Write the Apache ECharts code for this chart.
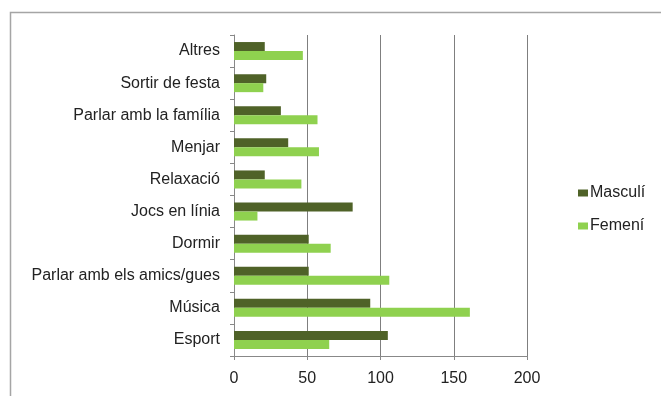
<!DOCTYPE html>
<html>
<head>
<meta charset="utf-8">
<script src="https://cdn.jsdelivr.net/npm/echarts@6/dist/echarts.min.js"></script>
<style>html,body{margin:0;padding:0;background:#fff;}#c{width:661px;height:396px;}</style>
</head>
<body>
<div id="c"></div>
<script>
var categories = ['Esport', 'Música', 'Parlar amb els amics/gues', 'Dormir', 'Jocs en línia', 'Relaxació', 'Menjar', 'Parlar amb la família', 'Sortir de festa', 'Altres'];
var masculi = [105, 93, 51, 51, 81, 21, 37, 32, 22, 21];
var femeni = [65, 161, 106, 66, 16, 46, 58, 57, 20, 47];
var xTicks = [0, 50, 100, 150, 200];

var chart = echarts.init(document.getElementById('c'), null, {renderer: 'canvas'});
var font = '"Liberation Sans", Arial, sans-serif';
chart.setOption({
  animation: false,
  backgroundColor: '#fff',
  graphic: [{
    type: 'rect', left: 8, top: 10, shape: {width: 700, height: 420},
    style: {fill: 'none', stroke: '#a5a5a5', lineWidth: 1.5}, silent: true
  }],
  grid: {left: 234, right: 134, top: 35, bottom: 40, containLabel: false},
  legend: {
    orient: 'vertical', left: 573, top: 180,
    itemWidth: 10, itemHeight: 7, itemGap: 17,
    icon: 'rect',
    textStyle: {fontFamily: font, fontSize: 16, color: '#222', padding: [0, 0, 0, -3]},
    data: ['Masculí', 'Femení']
  },
  xAxis: {
    type: 'value', min: xTicks[0], max: xTicks[xTicks.length - 1], interval: 50,
    axisLine: {show: true, lineStyle: {color: '#888', width: 1}},
    axisTick: {show: true, length: 4, lineStyle: {color: '#888'}},
    splitLine: {show: true, lineStyle: {color: '#7f7f7f', width: 1}},
    axisLabel: {fontFamily: font, fontSize: 16, color: '#222', margin: 15}
  },
  yAxis: {
    type: 'category', data: categories,
    axisLine: {show: true, lineStyle: {color: '#888', width: 1}},
    axisTick: {show: true, length: 4, lineStyle: {color: '#888'}},
    axisLabel: {fontFamily: font, fontSize: 16, color: '#222', margin: 14}
  },
  series: [
    {name: 'Masculí', type: 'bar', data: masculi, barWidth: 9, barGap: '0%',
     itemStyle: {color: '#4f6228'}},
    {name: 'Femení', type: 'bar', data: femeni, barWidth: 9, barGap: '0%',
     itemStyle: {color: '#8fd14f'}}
  ]
});
</script>
</body>
</html>
